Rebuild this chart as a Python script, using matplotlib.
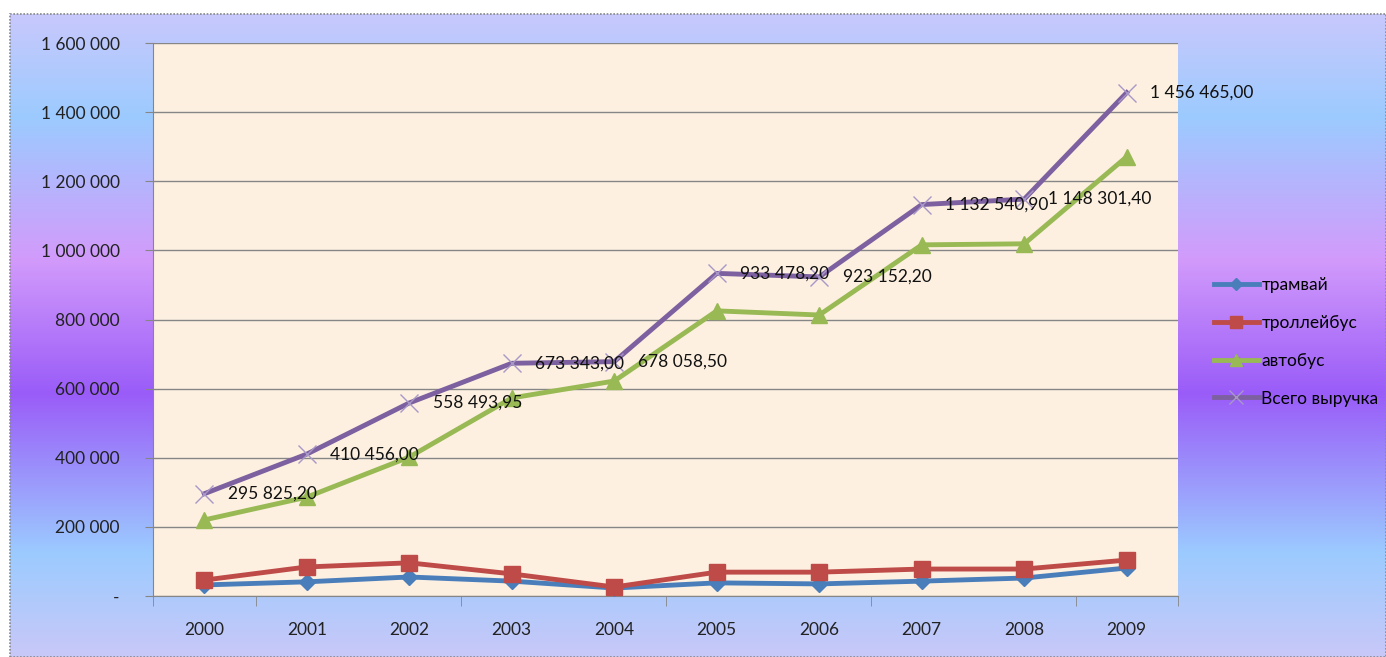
import numpy as np
import matplotlib.pyplot as plt
from matplotlib.colors import LinearSegmentedColormap
from matplotlib.patches import Rectangle

years = ['2000', '2001', '2002', '2003', '2004', '2005', '2006', '2007', '2008', '2009']
tram = [32000, 41000, 55000, 43000, 23000, 38000, 35000, 43000, 52000, 81000]
trolley = [46000, 84000, 96000, 64000, 26000, 69000, 69000, 78000, 78000, 104000]
bus = [220000, 286000, 402000, 573000, 622000, 825000, 813000, 1016000, 1019000, 1271000]
total = [295825.20, 410456.00, 558493.95, 673343.00, 678058.50,
         933478.20, 923152.20, 1132540.90, 1148301.40, 1456465.00]
series_names = ['трамвай', 'троллейбус', 'автобус', 'Всего выручка']
yticks = [0, 200000, 400000, 600000, 800000, 1000000, 1200000, 1400000, 1600000]

plt.rcParams['font.family'] = ['Lato', 'DejaVu Sans']

W, H = 1386, 657
fig = plt.figure(figsize=(W / 100, H / 100), dpi=100)
fig.patch.set_facecolor('white')

# gradient background
bg = fig.add_axes([10 / W, 0, 1 - 10 / W, (H - 14) / H])
cmap = LinearSegmentedColormap.from_list('bg', [
    (0.00, '#c8c8fc'), (0.16, '#9ccbff'), (0.38, '#d29bfb'),
    (0.59, '#9a5cf8'), (0.84, '#9ccbff'), (1.00, '#c8c8f8')])
bg.imshow(np.linspace(0, 1, 256).reshape(-1, 1), aspect='auto', cmap=cmap,
          extent=[0, 1, 0, 1])
bg.add_patch(Rectangle((0, 0), 1, 1, fill=False, ec='#888888', lw=1.2,
                       ls=(0, (1, 1)), transform=bg.transAxes, clip_on=False))
bg.set_axis_off()

ax = fig.add_axes([153 / W, (H - 596) / H, 1025 / W, 553 / H])
ax.set_facecolor('#fdf0e0')
x = np.arange(len(years))

ax.plot(x, tram, color='#4a7ebb', lw=3.5, marker='D', ms=8, zorder=3)
ax.plot(x, trolley, color='#be4b48', lw=3.5, marker='s', ms=11, zorder=3)
ax.plot(x, bus, color='#98b954', lw=3.5, marker='^', ms=11, zorder=3)
ax.plot(x, total, color='#7d60a0', lw=3.5, marker='x', ms=13, mew=1,
        mec='#a898c8', zorder=4)

for xi, v in zip(x, total):
    s = f'{v:,.2f}'.replace(',', ' ').replace('.', ',')
    ax.annotate(s, (xi, v), xytext=(17, 0), textcoords='offset points',
                ha='left', va='center', fontsize=12.5, color='#111111', zorder=5)

ax.set_xlim(-0.5, len(years) - 0.5)
ax.set_ylim(0, 1600000)
ax.set_yticks(yticks)
ax.set_yticklabels(['-' if t == 0 else f'{t:,}'.replace(',', ' ') for t in yticks],
                   fontsize=12.5, color='#222222')
ax.grid(axis='y', color='#868686', lw=1)
ax.set_axisbelow(True)

ax.set_xticks(x)
ax.set_xticklabels(years, fontsize=12.5, color='#222222')
ax.tick_params(axis='x', length=0, pad=19)
ax.set_xticks([-0.5, 0.5, 2.5, 4.5, 6.5, 8.5, 9.5], minor=True)
ax.tick_params(axis='x', which='minor', length=7, color='#868686', direction='out')
ax.tick_params(axis='y', length=6, color='#868686', pad=18)

for side in ['top', 'right']:
    ax.spines[side].set_visible(False)
for side in ['left', 'bottom']:
    ax.spines[side].set_color('#868686')

fig.legend(ax.lines, series_names, loc='center left',
           bbox_to_anchor=(1198 / W, 1 - 342 / H), frameon=False,
           fontsize=12.5, handlelength=2.6, handletextpad=0.15,
           labelspacing=1.25, markerscale=0.8)

fig.savefig('out.png', dpi=100)
